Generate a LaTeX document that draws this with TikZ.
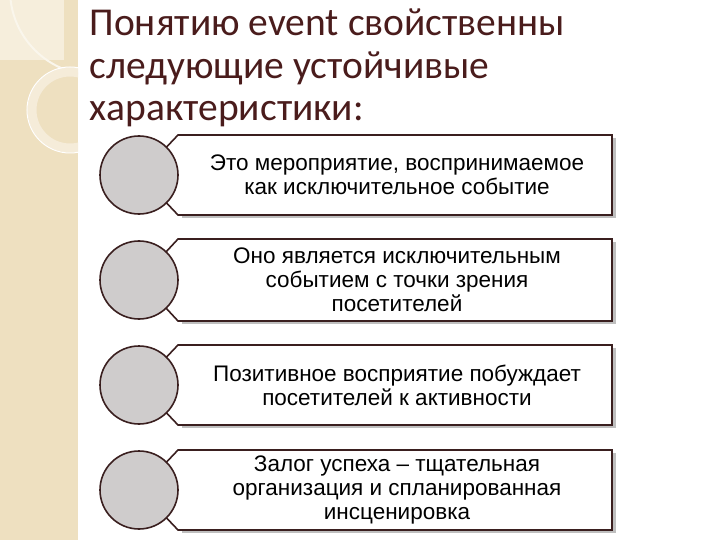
\documentclass[tikz,border=0pt]{standalone}
\usepackage{fontspec}
\setmainfont{Liberation Sans}
\newfontfamily\titlefont{Carlito}
\begin{document}
\begin{tikzpicture}[x=1pt,y=-1pt,
  circ/.style={circle,draw=ddark,line width=1.6pt,fill=cgray,minimum size=78pt,inner sep=0pt},
  boxline/.style={draw=ddark,line width=1.6pt,fill=white},
  shade/.style={fill=black!25},
  txt/.style={align=center,font=\fontsize{22.5}{24}\selectfont,text=black},
  ttl/.style={anchor=west,font=\titlefont\fontsize{39.5}{44}\selectfont,text=tcol}]
\definecolor{ddark}{HTML}{3A1F1F}
\definecolor{cgray}{HTML}{CFCCCC}
\definecolor{beige}{HTML}{EEE0C0}
\definecolor{tcol}{HTML}{4A1C1C}
\useasboundingbox (0,0) rectangle (720,540);
\fill[white] (0,0) rectangle (720,540);
\fill[beige] (0,0) rectangle (78,540);
\fill[beige!55] (0,0) rectangle (64,60);
\begin{scope}
\clip (0,0) rectangle (78,540);
\draw[white!70!beige,line width=2pt] (95,-10) circle (85);
\draw[beige!60!white,line width=9pt] (70,110) circle (38);
\draw[white,line width=1pt] (70,110) circle (43);
\end{scope}
\node[ttl] (t1) at (86,22) {Понятию event свойственны};
\node[ttl] (t2) at (86,68) {следующие устойчивые};
\node[ttl] (t3) at (86,114) {характеристики:};
\foreach \i/\cy/\h/\t in {1/175/40/{Это мероприятие, воспринимаемое\\как исключительное событие},
  2/280/41/{Оно является исключительным\\событием с точки зрения\\посетителей},
  3/385/40/{Позитивное восприятие побуждает\\посетителей к активности},
  4/490/40/{Залог успеха – тщательная\\организация и спланированная\\инсценировка}}{
  \fill[shade] (182,\cy-\h+3) -- (616,\cy-\h+3) -- (616,\cy+\h+3) -- (182,\cy+\h+3) -- cycle;
  \draw[boxline] (178,\cy-\h) -- (612,\cy-\h) -- (612,\cy+\h) -- (178,\cy+\h) -- (140,\cy) -- cycle;
  \node[txt] (b\i) at (397,\cy) {\t};
  \node[circ] (c\i) at (139,\cy) {};
}
\end{tikzpicture}
\end{document}
